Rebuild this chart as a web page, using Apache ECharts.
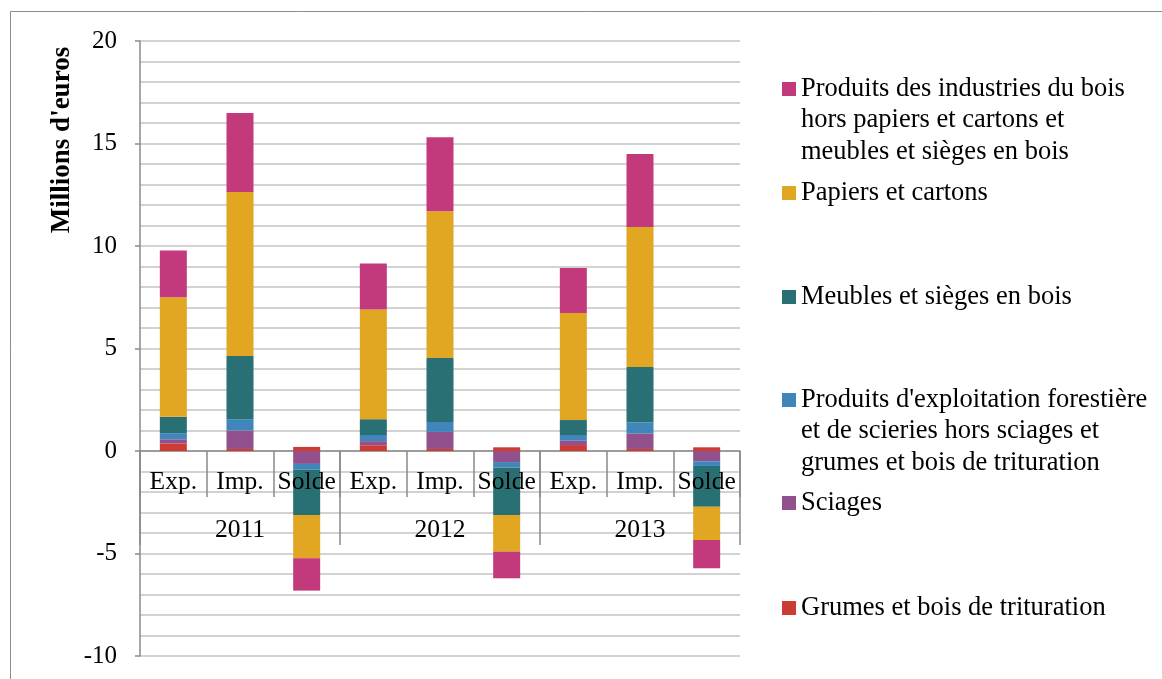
<!DOCTYPE html>
<html>
<head>
<meta charset="utf-8">
<script src="https://cdn.jsdelivr.net/npm/echarts@6/dist/echarts.min.js"></script>
<style>
  html, body { margin: 0; padding: 0; background: #fff; }
  #chart { width: 1162px; height: 679px; }
</style>
</head>
<body>
<div id="chart"></div>
<script>
// Flows per product group (millions d'euros): exports, imports and balance for each year
const years = ['2011', '2012', '2013'];
const flows = ['Exp.', 'Imp.', 'Solde'];
const categories = years.flatMap(() => flows);

const seriesNames = [
  'Grumes et bois de trituration',
  'Sciages',
  "Produits d'exploitation forestière\net de scieries hors sciages et\ngrumes et bois de trituration",
  'Meubles et sièges en bois',
  'Papiers et cartons',
  'Produits des industries du bois\nhors papiers et cartons et\nmeubles et sièges en bois'
];

//            Exp.   Imp.  Solde | Exp.  Imp.  Solde | Exp.  Imp.  Solde
const grumes   = [0.37, 0.10, 0.20,  0.28, 0.10, 0.18,  0.29, 0.10, 0.18];
const sciages  = [0.20, 0.90, -0.63, 0.20, 0.83, -0.54, 0.21, 0.76, -0.50];
const exploit  = [0.30, 0.55, -0.27, 0.30, 0.49, -0.26, 0.28, 0.54, -0.23];
const meubles  = [0.80, 3.08, -2.22, 0.77, 3.12, -2.32, 0.73, 2.70, -1.99];
const papiers  = [5.83, 8.00, -2.11, 5.35, 7.16, -1.79, 5.22, 6.83, -1.62];
const industries = [2.28, 3.86, -1.58, 2.25, 3.60, -1.30, 2.20, 3.56, -1.38];

const seriesData = [grumes, sciages, exploit, meubles, papiers, industries];
const colors = ['#cd3c33', '#92508d', '#4186bb', '#287074', '#e1a622', '#c23a7b'];

const yTicks = { min: -10, max: 20, interval: 5 };

const FONT = 'Liberation Serif';
const gridColor = '#c4c4c4';
const axisColor = '#8a8a8a';

// Plot area and the pixel distance from its bottom edge up to the zero line
const plot = { left: 140, top: 41, width: 600, height: 615 };
const zeroOffset = plot.height * (0 - yTicks.min) / (yTicks.max - yTicks.min);

// Legend: one block per series, stacked top to bottom in reverse series order.
// Multi-line names get blank leading lines so the swatch sits on the first line.
const lineH = 31.5;
const legendCenters = [608, 503, 400, 297, 193, 89];
const legends = seriesNames.map((name, i) => {
  const lines = name.split('\n').length;
  const blockLines = lines + (lines - 1);
  const blockH = blockLines * lineH;
  return {
    data: [name],
    orient: 'vertical',
    left: 782,
    top: legendCenters[i] - blockH / 2,
    padding: 0,
    itemWidth: 14,
    itemHeight: 14,
    itemGap: 0,
    icon: 'rect',
    selectedMode: false,
    formatter: (n) => '\n'.repeat(lines - 1) + n,
    textStyle: {
      fontFamily: FONT,
      fontSize: 26.5,
      color: '#000',
      lineHeight: lineH
    }
  };
});

const chart = echarts.init(document.getElementById('chart'), null, { renderer: 'canvas' });

chart.setOption({
  animation: false,
  backgroundColor: '#fff',
  color: colors,
  textStyle: { fontFamily: FONT },
  grid: {
    left: plot.left, top: plot.top, width: plot.width, height: plot.height,
    containLabel: false, outerBoundsMode: 'none'
  },
  legend: legends,
  graphic: [
    {
      type: 'rect',
      shape: { x: 10.5, y: 11.5, width: 1200, height: 720 },
      style: { fill: null, stroke: '#8c8c8c', lineWidth: 1 },
      silent: true
    },
    {
      type: 'text',
      x: 62,
      y: 140,
      rotation: Math.PI / 2,
      style: {
        text: "Millions d'euros",
        font: 'bold 27px "Liberation Serif"',
        fill: '#000',
        align: 'center',
        verticalAlign: 'middle'
      },
      silent: true
    }
  ],
  xAxis: [
    {
      // Flow labels (Exp./Imp./Solde) drawn above the bars
      type: 'category',
      data: categories,
      position: 'bottom',
      offset: -zeroOffset,
      z: 5,
      axisLine: { show: false, onZero: false },
      axisTick: { show: true, length: 46, interval: 0, lineStyle: { color: axisColor, width: 1.5 } },
      axisLabel: { interval: 0, margin: 18, fontFamily: FONT, fontSize: 25.5, color: '#000' },
      splitLine: { show: false }
    },
    {
      // Year level plus the zero line, kept beneath the bars
      type: 'category',
      data: years,
      position: 'bottom',
      offset: -zeroOffset,
      axisLine: { show: true, onZero: false, lineStyle: { color: axisColor, width: 1.5 } },
      axisTick: { show: true, length: 94, interval: 0, lineStyle: { color: axisColor, width: 1.5 } },
      axisLabel: { interval: 0, margin: 66, fontFamily: FONT, fontSize: 25.5, color: '#000' },
      splitLine: { show: false }
    }
  ],
  yAxis: {
    type: 'value',
    min: yTicks.min,
    max: yTicks.max,
    interval: yTicks.interval,
    axisLine: { show: true, lineStyle: { color: axisColor, width: 1.5 } },
    axisTick: { show: true, length: 5, lineStyle: { color: axisColor, width: 1.5 } },
    axisLabel: { margin: 23, fontFamily: FONT, fontSize: 25, color: '#000' },
    splitLine: { show: true, lineStyle: { color: gridColor, width: 1.5 } },
    minorTick: { show: false, splitNumber: 5 },
    minorSplitLine: { show: true, lineStyle: { color: gridColor, width: 1.5 } }
  },
  series: seriesNames.map((name, i) => ({
    name,
    type: 'bar',
    stack: 'total',
    xAxisIndex: 0,
    barWidth: 27,
    data: seriesData[i],
    itemStyle: { color: colors[i] }
  }))
});
</script>
</body>
</html>
